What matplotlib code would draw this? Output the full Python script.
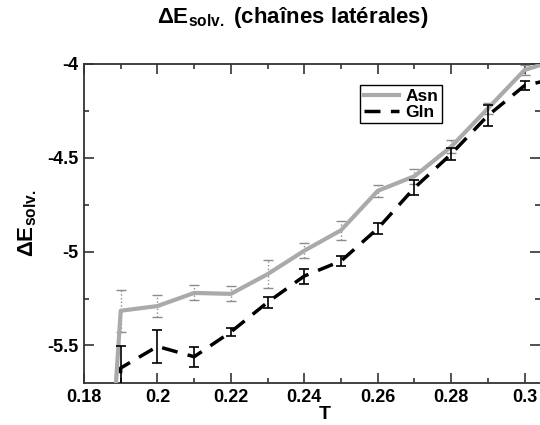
import matplotlib
matplotlib.use("Agg")
import matplotlib.pyplot as plt
from matplotlib.ticker import MultipleLocator, FuncFormatter

plt.rcParams['font.family'] = ['Liberation Sans', 'DejaVu Sans']
plt.rcParams['font.weight'] = 'bold'
plt.rcParams['mathtext.fontset'] = 'custom'
plt.rcParams['mathtext.bf'] = 'Liberation Sans:bold'
plt.rcParams['mathtext.rm'] = 'Liberation Sans:bold'
plt.rcParams['axes.unicode_minus'] = False

# temperatures (first/last points lie outside the visible window)
T = [0.185, 0.19, 0.20, 0.21, 0.22, 0.23, 0.24, 0.25, 0.26, 0.27, 0.28, 0.29, 0.30, 0.31]
asn = [-6.8, -5.315, -5.29, -5.22, -5.225, -5.12, -4.995, -4.886, -4.676,
       -4.598, -4.441, -4.237, -4.032, -3.97]
gln = [-9.0, -5.62, -5.505, -5.56, -5.428, -5.27, -5.13, -5.05, -4.877,
       -4.66, -4.48, -4.275, -4.115, -4.07]
# error bars for T = 0.19 .. 0.30
asn_err = [0.113, 0.058, 0.04, 0.04, 0.073, 0.04, 0.05, 0.031, 0.04, 0.035, 0.03, 0.027]
gln_err = [0.115, 0.09, 0.053, 0.02, 0.03, 0.04, 0.027, 0.027, 0.04, 0.03, 0.055, 0.026]

fig = plt.figure(figsize=(5.4, 4.25), dpi=100)
ax = fig.add_axes([84/540, 1-383/425, 1-84/540, (383-64)/425])

ax.plot(T, asn, color='#aaaaaa', lw=3, label='Asn', zorder=3)
eb = ax.errorbar(T[1:-1], asn[1:-1], yerr=asn_err, fmt='none', ecolor='#8c8c8c',
                 elinewidth=1, capsize=3.6, capthick=1, zorder=2)
eb[2][0].set_linestyle(':')

ax.plot(T, gln, color='black', lw=2.5, dashes=(4.6, 3.0), label='Gln', zorder=4)
ax.errorbar(T[1:-1], gln[1:-1], yerr=gln_err, fmt='none', ecolor='black',
            elinewidth=1.2, capsize=3.6, capthick=1.2, zorder=4)

ax.set_xlim(0.18, 0.3042)
ax.set_ylim(-5.7, -4.0)
ax.xaxis.set_major_locator(MultipleLocator(0.02))
ax.xaxis.set_minor_locator(MultipleLocator(0.01))
ax.yaxis.set_major_locator(MultipleLocator(0.5))
ax.yaxis.set_minor_locator(MultipleLocator(0.25))
fmt = FuncFormatter(lambda v, p: '%g' % round(v, 4))
ax.xaxis.set_major_formatter(fmt)
ax.yaxis.set_major_formatter(fmt)
ax.tick_params(which='both', direction='in', top=True, right=True,
               labelsize=13, width=1.1, color='#222222')
ax.tick_params(which='major', length=7, pad=4)
ax.tick_params(which='minor', length=3.5)
for s in ax.spines.values():
    s.set_linewidth(1.3)
    s.set_color('#333333')
ax.spines['right'].set_visible(False)

ax.set_xlabel('T', fontsize=14, fontweight='bold', va='center')
ax.xaxis.set_label_coords(0.528, -0.1)
ax.set_ylabel(r'ΔE$_{\mathbf{solv.}}$', fontsize=16, fontweight='bold', labelpad=6)
fig.text(0.543, 0.958, r'ΔE$_{\mathbf{solv.}}$ (chaînes latérales)',
         ha='center', va='center', fontsize=16, fontweight='bold')

leg = ax.legend(loc='upper right', bbox_to_anchor=(0.785, 0.934), borderaxespad=0,
                fancybox=False, edgecolor='black', framealpha=1,
                prop={'size': 12.5, 'weight': 'bold'}, handlelength=2.0,
                borderpad=0.2, labelspacing=0.05, handletextpad=0.4)
leg.get_frame().set_linewidth(1)

fig.savefig('out.png', dpi=100)
